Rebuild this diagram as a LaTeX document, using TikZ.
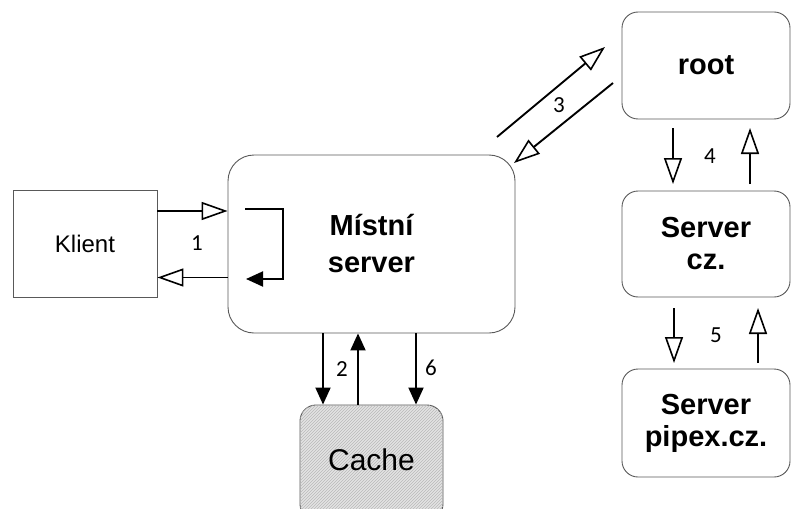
\documentclass[tikz,border=0pt]{standalone}
\usepackage{fontspec}
\setmainfont{Liberation Sans}
\newfontfamily\numfont{Carlito}
\usetikzlibrary{arrows.meta,patterns,calc}
\begin{document}
\begin{tikzpicture}[x=1pt,y=-1pt,
  box/.style={draw=black!65,line width=0.9pt,rounded corners=16pt,align=center,inner sep=0pt},
  bigtxt/.style={font=\fontsize{29}{32}\selectfont\bfseries},
  oarrow/.style={line width=1.9pt,-{Triangle[open,length=26pt,width=18pt,line width=1.6pt]}},
  farrow/.style={line width=1.9pt,-{Triangle[length=17pt,width=15pt]}},
  num/.style={font=\numfont\fontsize{23}{26}\selectfont,text=black}]
\useasboundingbox (0,0) rectangle (791,508);
\fill[white] (0,0) rectangle (791,508);
% nodes
\node[draw=black!65,line width=0.9pt,minimum width=144pt,minimum height=107pt,font=\fontsize{24}{28}\selectfont] (klient) at (85,243.5) {Klient};
\node[box,rounded corners=26pt,minimum width=287pt,minimum height=178pt,bigtxt,font=\fontsize{29}{37}\selectfont\bfseries] (ms) at (371.5,244) {Místní\\server};
\node[box,minimum width=168pt,minimum height=107pt,bigtxt] (root) at (706,65.5) {root};
\node[box,minimum width=168pt,minimum height=106pt,bigtxt] (cz) at (706,244) {Server\\cz.};
\node[box,minimum width=168pt,minimum height=108pt,bigtxt] (pipex) at (706,423) {Server\\pipex.cz.};
\node[box,minimum width=143pt,minimum height=115pt,fill=gray!22,
  postaction={pattern=north east lines,pattern color=gray!55}] (cache) at (371.5,462.5) {};
\node[font=\fontsize{30}{32}\selectfont] (cachetxt) at (371.5,460) {Cache};
% connectors klient <-> ms
\draw[oarrow] ([yshift=32.5pt]klient.east) -- ([yshift=32.5pt]klient.east -| ms.west);
\draw[oarrow] ([yshift=-33.5pt]ms.west) -- ([yshift=-33.5pt]ms.west -| klient.east);
\coordinate (l1) at (245,209);
\coordinate (l2) at (246,279);
\draw[farrow] (l1) -- (283,209) -- (283,279) -- (l2);
\node[num] (n1) at (197,243) {1};
% ms <-> cache
\draw[farrow] (323,333) coordinate (a2s) -- (a2s |- cache.north);
\draw[farrow] (358,405) coordinate (a2u) -- (a2u |- ms.south);
\draw[farrow] (416,333) coordinate (a6s) -- (a6s |- cache.north);
\node[num] (n2) at (342,369) {2};
\node[num] (n6) at (431,368) {6};
% ms <-> root
\coordinate (r1s) at (497,137);
\coordinate (r1e) at (605,47);
\coordinate (r2s) at (613,83);
\coordinate (r2e) at (514,163);
\draw[oarrow] (r1s) -- (r1e);
\draw[oarrow] (r2s) -- (r2e);
\node[num] (n3) at (559,105) {3};
% root <-> cz
\draw[oarrow] (673,128) coordinate (d4s) -- (673,184);
\draw[oarrow] (750,184) coordinate (u4s) -- (750,128);
\node[num] (n4) at (710,156) {4};
% cz <-> pipex
\draw[oarrow] (674,308) coordinate (d5s) -- (674,363);
\draw[oarrow] (758,363) coordinate (u5s) -- (758,308);
\node[num] (n5) at (716,335) {5};
\end{tikzpicture}
\end{document}
